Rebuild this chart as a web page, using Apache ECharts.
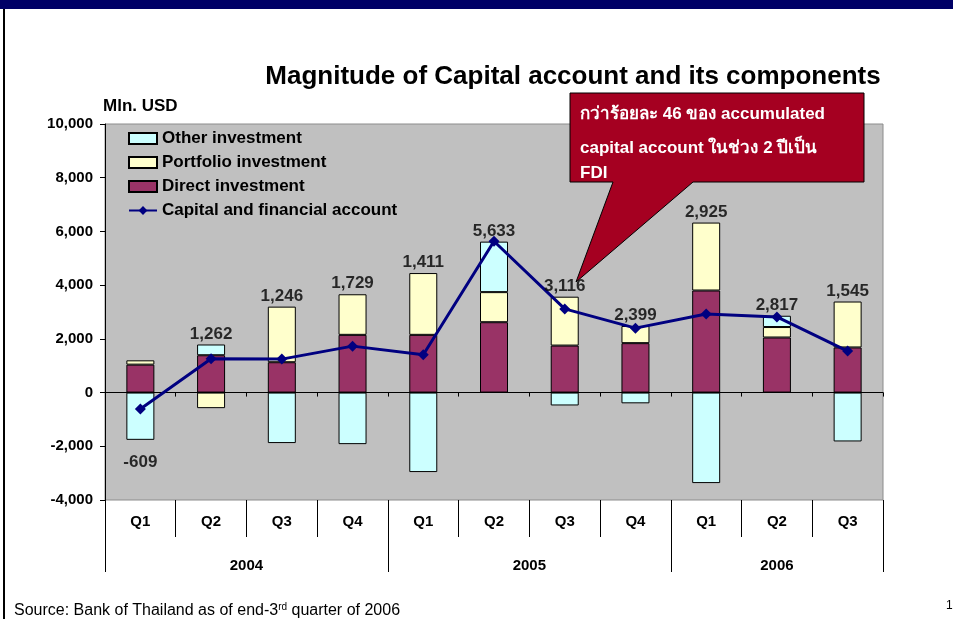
<!DOCTYPE html>
<html>
<head>
<meta charset="utf-8">
<script src="https://cdn.jsdelivr.net/npm/echarts@6/dist/echarts.min.js"></script>
<style>
html, body { margin: 0; padding: 0; background: #fff; }
#chart { width: 953px; height: 619px; }
</style>
</head>
<body>
<div id="chart"></div>
<script>
// Capital account and its components, Mln. USD
const quarters = ['Q1', 'Q2', 'Q3', 'Q4', 'Q1', 'Q2', 'Q3', 'Q4', 'Q1', 'Q2', 'Q3'];
const years = ['2004', '2005', '2006'];
const yearSpans = [4, 4, 3];
const directInv = [1040, 1390, 1130, 2150, 2150, 2620, 1750, 1840, 3800, 2050, 1680];
const portfolioInv = [160, -580, 2070, 1510, 2300, 1120, 1820, 640, 2530, 390, 1710];
const otherInv = [-1760, 400, -1880, -1920, -2960, 1880, -480, -400, -3370, 420, -1820];
const capitalAcc = [-609, 1262, 1246, 1729, 1411, 5633, 3116, 2399, 2925, 2817, 1545];

const font = "'Liberation Sans', Arial, sans-serif";
const fmt = v => v.toLocaleString('en-US');

// year separators and year label centers, in quarter units
const yearEdges = [0];
yearSpans.forEach(s => yearEdges.push(yearEdges[yearEdges.length - 1] + s));
const yearCenters = years.map((y, i) => (yearEdges[i] + yearEdges[i + 1]) / 2);

// where the value labels sit: on top of the positive stack, or under the negative one
const labelAnchor = capitalAcc.map((c, i) => {
    const parts = [directInv[i], portfolioInv[i], otherInv[i]];
    if (c >= 0) return parts.filter(v => v > 0).reduce((a, b) => a + b, 0);
    return parts.filter(v => v < 0).reduce((a, b) => a + b, 0);
});

const chart = echarts.init(document.getElementById('chart'));

const barBorder = { borderColor: '#000', borderWidth: 1 };

chart.setOption({
    animation: false,
    textStyle: { fontFamily: font },
    grid: {
        left: 105, right: 70, top: 124, bottom: 119,
        show: true, backgroundColor: '#C0C0C0', borderColor: '#8c8c8c', borderWidth: 1,
        outerBoundsMode: 'none'
    },
    legend: {
        data: [
            { name: 'Other investment', icon: 'rect' },
            { name: 'Portfolio investment', icon: 'rect' },
            { name: 'Direct investment', icon: 'rect' },
            { name: 'Capital and financial account' }
        ],
        orient: 'vertical',
        left: 123, top: 125,
        itemWidth: 28, itemHeight: 11, itemGap: 7,
        textStyle: { fontFamily: font, fontWeight: 'bold', fontSize: 17, color: '#000' }
    },
    xAxis: [
        {
            // zero line
            type: 'category', data: quarters,
            axisLine: { onZero: true, lineStyle: { color: '#000', width: 1 } },
            axisTick: { show: true, length: 4, lineStyle: { color: '#000' } },
            axisLabel: { show: false },
            splitLine: { show: false }
        },
        {
            // quarters
            type: 'category', data: quarters, position: 'bottom',
            axisLine: { show: false, onZero: false },
            axisTick: { show: true, length: 37, lineStyle: { color: '#000' } },
            axisLabel: { margin: 14, fontFamily: font, fontWeight: 'bold', fontSize: 15, color: '#000' }
        },
        {
            // years
            type: 'value', min: 0, max: quarters.length, position: 'bottom',
            axisLine: { show: false, onZero: false },
            splitLine: { show: false },
            axisTick: { show: true, length: 72, customValues: yearEdges, lineStyle: { color: '#000' } },
            axisLabel: {
                margin: 58, customValues: yearCenters,
                formatter: v => years[yearCenters.indexOf(v)],
                fontFamily: font, fontWeight: 'bold', fontSize: 15, color: '#000'
            }
        }
    ],
    yAxis: {
        type: 'value', min: -4000, max: 10000, interval: 2000,
        axisLine: { show: true, lineStyle: { color: '#000' } },
        axisTick: { show: true, length: 5, lineStyle: { color: '#000' } },
        splitLine: { show: false },
        axisLabel: {
            margin: 12, formatter: v => fmt(v),
            fontFamily: font, fontWeight: 'bold', fontSize: 15, color: '#000'
        }
    },
    series: [
        {
            name: 'Direct investment', type: 'bar', stack: 'comp', barWidth: 28,
            itemStyle: Object.assign({ color: '#993366' }, barBorder),
            data: directInv
        },
        {
            name: 'Portfolio investment', type: 'bar', stack: 'comp', barWidth: 28,
            itemStyle: Object.assign({ color: '#FFFFCC' }, barBorder),
            data: portfolioInv
        },
        {
            name: 'Other investment', type: 'bar', stack: 'comp', barWidth: 28,
            itemStyle: Object.assign({ color: '#CCFFFF' }, barBorder),
            data: otherInv
        },
        {
            name: 'Capital and financial account', type: 'line', z: 5,
            symbol: 'diamond', symbolSize: 11,
            lineStyle: { color: '#000080', width: 3 },
            itemStyle: { color: '#000080' },
            data: capitalAcc
        },
        {
            name: 'labels', type: 'scatter', symbolSize: 0, z: 6, silent: true,
            data: labelAnchor.map((v, i) => ({
                value: v,
                label: capitalAcc[i] < 0 ? { position: 'bottom', distance: 14 } : undefined
            })),
            label: {
                show: true, position: 'top', distance: 2,
                formatter: p => fmt(capitalAcc[p.dataIndex]),
                fontFamily: font, fontWeight: 'bold', fontSize: 17, color: '#000'
            }
        }
    ],
    graphic: [
        { type: 'rect', shape: { x: 0, y: 0, width: 953, height: 9 }, style: { fill: '#000066' } },
        { type: 'rect', shape: { x: 3, y: 9, width: 2, height: 610 }, style: { fill: '#000' } },
        {
            type: 'text', x: 573, y: 77,
            style: {
                text: 'Magnitude of Capital account and its components',
                font: "bold 26px 'Liberation Sans', Arial, sans-serif",
                fill: '#000', align: 'center', verticalAlign: 'middle'
            }
        },
        {
            type: 'text', x: 103, y: 106,
            style: { text: 'Mln. USD', font: "bold 17px 'Liberation Sans', Arial, sans-serif", fill: '#000', verticalAlign: 'middle' }
        },
        {
            type: 'polygon', z: 10,
            shape: { points: [[570, 93], [864, 93], [864, 182], [693, 182], [576, 282], [613, 182], [570, 182]] },
            style: { fill: '#A50021', stroke: '#000', lineWidth: 1 }
        },
        {
            type: 'text', z: 11, x: 580, y: 114,
            style: { text: 'กว่าร้อยละ 46 ของ accumulated', font: "bold 17px 'Liberation Sans', Arial, sans-serif", fill: '#fff', verticalAlign: 'middle' }
        },
        {
            type: 'text', z: 11, x: 580, y: 148,
            style: { text: 'capital account ในช่วง 2 ปีเป็น', font: "bold 17px 'Liberation Sans', Arial, sans-serif", fill: '#fff', verticalAlign: 'middle' }
        },
        {
            type: 'text', z: 11, x: 580, y: 182,
            style: { text: 'FDI', font: "bold 17px 'Liberation Sans', Arial, sans-serif", fill: '#fff', verticalAlign: 'bottom' }
        },
        {
            type: 'text', x: 14, y: 611,
            style: {
                text: 'Source: Bank of Thailand as of end-3{sup|rd} quarter of 2006',
                font: "16px 'Liberation Sans', Arial, sans-serif", fill: '#000', verticalAlign: 'middle',
                rich: { sup: { fontSize: 10, verticalAlign: 'top', padding: [0, 0, 8, 0] } }
            }
        },
        {
            type: 'text', x: 946, y: 606,
            style: { text: '1', font: "12px 'Liberation Sans', Arial, sans-serif", fill: '#000', verticalAlign: 'middle' }
        }
    ]
});
</script>
</body>
</html>
